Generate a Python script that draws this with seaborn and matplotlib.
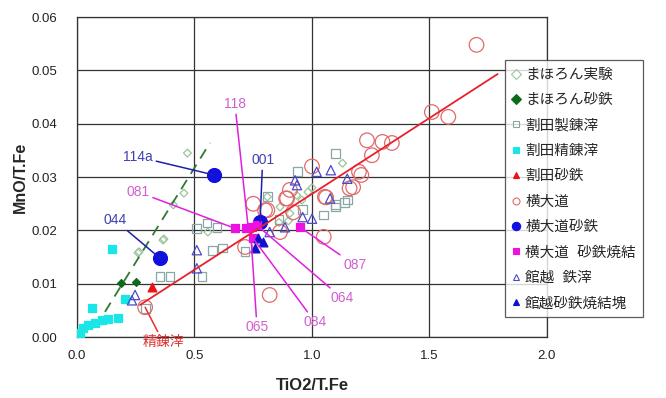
import numpy as np
import pandas as pd
import seaborn as sns
import matplotlib.pyplot as plt
from matplotlib.lines import Line2D

# ---- data ----
mahoron_jikken_x = [0.26, 0.264, 0.366, 0.37, 0.41, 0.455, 0.47, 0.557, 0.81, 0.864, 0.906, 0.935, 0.957, 0.983, 1.0, 1.13, 0.86, 0.9]
mahoron_jikken_y = [0.0158, 0.016, 0.0182, 0.0184, 0.0248, 0.027, 0.0345, 0.0197, 0.0263, 0.0244, 0.0232, 0.0266, 0.0257, 0.0272, 0.028, 0.0326, 0.0215, 0.0218]
mahoron_satetsu_x = [0.187, 0.251]
mahoron_satetsu_y = [0.0101, 0.0103]
warita_seiren_x = [0.29, 0.353, 0.396, 0.51, 0.532, 0.553, 0.575, 0.596, 0.62, 0.715, 0.81, 0.94, 1.05, 1.1, 1.1, 1.14, 1.15, 1.1, 0.86, 0.96]
warita_seiren_y = [0.0054, 0.0113, 0.0113, 0.0204, 0.0113, 0.0214, 0.0163, 0.0206, 0.0167, 0.016, 0.0263, 0.031, 0.0229, 0.0248, 0.0345, 0.0253, 0.0257, 0.0244, 0.022, 0.024]
warita_seirenzai_x = [0.004, 0.013, 0.026, 0.047, 0.064, 0.077, 0.106, 0.132, 0.149, 0.174, 0.204]
warita_seirenzai_y = [0.0, 0.00075, 0.0017, 0.0023, 0.0054, 0.0026, 0.0032, 0.0034, 0.0165, 0.0036, 0.0071]
warita_satetsu_x = [0.319]
warita_satetsu_y = [0.0094]
yokodaido_x = [0.29, 0.715, 0.75, 0.8, 0.81, 0.82, 0.864, 0.89, 0.894, 0.906, 0.92, 1.0, 1.05, 1.055, 1.06, 1.16, 1.175, 1.2, 1.21, 1.234, 1.255, 1.3, 1.34, 1.51, 1.58, 1.70]
yokodaido_y = [0.0056, 0.0169, 0.025, 0.0238, 0.0238, 0.0079, 0.0197, 0.026, 0.026, 0.0276, 0.0234, 0.032, 0.0188, 0.0263, 0.0262, 0.0279, 0.0281, 0.031, 0.0304, 0.0369, 0.0341, 0.0366, 0.0364, 0.0422, 0.0413, 0.0548]
yokodaido_satetsu_x = [0.353, 0.583, 0.779]
yokodaido_satetsu_y = [0.0148, 0.0304, 0.0216]
yokodaido_shoketsu_x = [0.672, 0.72, 0.745, 0.765, 0.75, 0.949]
yokodaido_shoketsu_y = [0.0204, 0.0204, 0.0206, 0.021, 0.0185, 0.0206]
tategoshi_tessai_x = [0.234, 0.247, 0.51, 0.51, 0.82, 0.885, 0.928, 0.936, 0.96, 1.0, 1.02, 1.077, 1.08, 1.15]
tategoshi_tessai_y = [0.0069, 0.0079, 0.0163, 0.0129, 0.0197, 0.0206, 0.0294, 0.0285, 0.0225, 0.0222, 0.031, 0.026, 0.0313, 0.0297]
tategoshi_shoketsu_x = [0.757, 0.79, 0.77]
tategoshi_shoketsu_y = [0.0167, 0.0178, 0.0185]

# fitted lines (slope, intercept, x range)
green_fit = (0.0709, -0.0037, 0.119, 0.566)
red_fit = (0.02845, -0.0016, 0.268, 1.79)

# annotations: label, text pos, point
labels = ["114a", "001", "044", "118", "081", "087", "064", "084", "065", "精錬滓"]
label_xy = [(0.26, 0.0338), (0.79, 0.0332), (0.162, 0.0219), (0.672, 0.0437), (0.26, 0.0272),
            (1.183, 0.0135), (1.128, 0.0073), (1.013, 0.0028), (0.766, 0.0019), (0.366, -0.0009)]
point_xy = [(0.583, 0.0304), (0.779, 0.0216), (0.353, 0.0148), (0.728, 0.0208), (0.672, 0.0204),
            (0.949, 0.0206), (0.765, 0.021), (0.75, 0.0185), (0.74, 0.019), (0.29, 0.0056)]

sns.set_style("white")
plt.rcParams['font.family'] = ['Liberation Sans', 'Noto Sans CJK JP']

fig = plt.figure(figsize=(6.66, 3.98), dpi=100)
ax = fig.add_axes([0.1156, 0.153, 0.7057, 0.804])

series = [
    ("まほろん実験", mahoron_jikken_x, mahoron_jikken_y, 'D', 'none', '#9cc49c', 16, 5),
    ("まほろん砂鉄", mahoron_satetsu_x, mahoron_satetsu_y, 'D', '#0b6b1b', '#0b6b1b', 16, 5),
    ("割田製錬滓", warita_seiren_x, warita_seiren_y, 's', 'none', '#8aa6a6', 40, 5),
    ("割田精錬滓", warita_seirenzai_x, warita_seirenzai_y, 's', '#19e6e6', '#19e6e6', 40, 5),
    ("割田砂鉄", warita_satetsu_x, warita_satetsu_y, '^', '#ee1111', '#ee1111', 40, 5),
    ("横大道", yokodaido_x, yokodaido_y, 'o', 'none', '#e06a6a', 110, 5),
    ("横大道砂鉄", yokodaido_satetsu_x, yokodaido_satetsu_y, 'o', '#1010e0', '#1010e0', 100, 6),
    ("横大道  砂鉄焼結", yokodaido_shoketsu_x, yokodaido_shoketsu_y, 's', '#ee10e0', '#ee10e0', 38, 5),
    ("館越  鉄滓", tategoshi_tessai_x, tategoshi_tessai_y, '^', 'none', '#4a4ac8', 45, 5),
    ("館越砂鉄焼結塊", tategoshi_shoketsu_x, tategoshi_shoketsu_y, '^', '#1010c8', '#1010c8', 40, 5),
]

handles = []
for name, xs, ys, m, fc, ec, s, ms in series:
    df = pd.DataFrame({"x": xs, "y": ys})
    sns.scatterplot(data=df, x="x", y="y", ax=ax, marker=m, s=s,
                    facecolor=fc, edgecolor=ec, linewidth=0.9, zorder=3, legend=False)
    handles.append(Line2D([], [], ls='none', marker=m, markersize=ms,
                          markerfacecolor=fc, markeredgecolor=ec, markeredgewidth=0.8, label=name))

# fitted lines
gx = np.linspace(green_fit[2], green_fit[3], 2)
ax.plot(gx, green_fit[0] * gx + green_fit[1], ls=(0, (6, 4)), color='#2f7a2f', lw=1.3, zorder=4)
rx = np.linspace(red_fit[2], red_fit[3], 2)
ax.plot(rx, red_fit[0] * rx + red_fit[1], color='#e8202a', lw=1.3, zorder=4)

for lab, txy, pxy in zip(labels, label_xy, point_xy):
    if lab in ("114a", "001", "044"):
        tc, lc = '#4040b0', '#2020b0'
    elif lab == "精錬滓":
        tc, lc = '#e03030', '#e03030'
    else:
        tc, lc = '#d060d0', '#e020e0'
    ax.annotate(lab, xy=pxy, xytext=txy, color=tc, fontsize=10, ha='center', va='center',
                annotation_clip=False,
                arrowprops=dict(arrowstyle='-', color=lc, lw=1.1, shrinkA=0, shrinkB=0),
                zorder=5)

ax.set_xlim(0, 2.0)
ax.set_ylim(0, 0.06)
ax.set_xticks([0, 0.5, 1.0, 1.5, 2.0])
ax.set_yticks(np.arange(0, 0.061, 0.01))
ax.set_xticklabels(["0.0", "0.5", "1.0", "1.5", "2.0"])
ax.set_yticklabels(["%.2f" % v for v in np.arange(0, 0.061, 0.01)])
ax.tick_params(labelsize=9.5, length=0, colors='#222222')
ax.tick_params(axis='x', pad=9)
ax.tick_params(axis='y', pad=14)
ax.grid(True, color='#333333', lw=0.9)
ax.set_axisbelow(True)
for sp in ax.spines.values():
    sp.set_color('#333333')
    sp.set_linewidth(0.9)
ax.set_xlabel("TiO2/T.Fe", fontsize=12, fontweight='bold', labelpad=12)
ax.set_ylabel("MnO/T.Fe", fontsize=11.5, fontweight='bold', labelpad=3)

leg = fig.legend(handles=handles, loc='upper left', bbox_to_anchor=(0.758, 0.848),
                 fontsize=10.5, frameon=True, fancybox=False, labelspacing=0.78,
                 handlelength=0.6, handletextpad=0.3, borderpad=0.5, borderaxespad=0)
leg.get_frame().set_edgecolor('#333333')
leg.get_frame().set_linewidth(0.9)

fig.savefig("out.png", dpi=100)
